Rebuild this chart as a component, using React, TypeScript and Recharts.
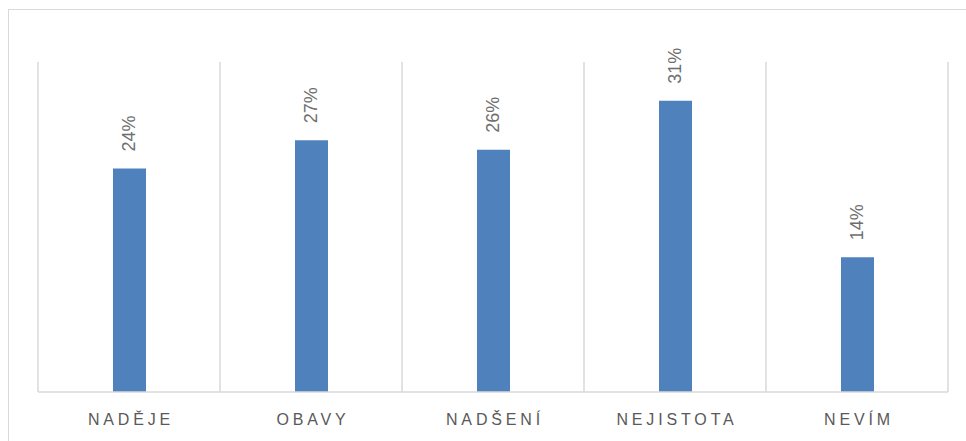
import React from 'react';
import { BarChart, Bar, XAxis, YAxis, CartesianGrid, LabelList } from 'recharts';

// Values (percent)
const categories = ['NADĚJE', 'OBAVY', 'NADŠENÍ', 'NEJISTOTA', 'NEVÍM'];
const shares = [23.7, 26.7, 25.7, 30.9, 14.3];

const data = categories.map((name, i) => ({ name, value: shares[i] }));

const GRID = '#d9d9d9';
const TEXT = '#595959';
const LABEL = '#6e6e6e';
const BAR = '#4f81bd';
const FONT = '"Liberation Sans", Arial, sans-serif';

// rotated value label above each bar
const ValueLabel = (props: any) => {
  const { x, y, width, value } = props;
  const cx = x + width / 2;
  const ty = y - 17;
  return (
    <text
      x={cx}
      y={ty}
      transform={`rotate(-90, ${cx}, ${ty})`}
      textAnchor="start"
      dominantBaseline="central"
      fill={LABEL}
      fontSize={18}
      fontFamily={FONT}
    >
      {`${Math.round(value)}%`}
    </text>
  );
};

const CategoryTick = (props: any) => {
  const { x, payload } = props;
  return (
    <text
      x={x + 2}
      y={425}
      textAnchor="middle"
      fill={TEXT}
      fontSize={16}
      fontFamily={FONT}
      letterSpacing={3.85}
    >
      {payload.value}
    </text>
  );
};

export default function App() {
  return (
    <div style={{ position: 'fixed', left: 0, top: 0, width: 966, height: 441, background: '#fff', overflow: 'hidden' }}>
      {/* outer chart frame, right and bottom edges fall outside the picture */}
      <div
        style={{
          position: 'absolute',
          left: 8,
          top: 9,
          width: 1000,
          height: 500,
          border: `1px solid ${GRID}`,
          boxSizing: 'border-box',
        }}
      />
      <div style={{ position: 'absolute', left: 0, top: 0 }}>
        <BarChart
          width={966}
          height={441}
          data={data}
          margin={{ top: 62, right: 18, left: 38, bottom: 0 }}
        >
          <CartesianGrid
            horizontal={false}
            stroke={GRID}
            strokeWidth={1.5}
            verticalCoordinatesGenerator={({ offset }: any) =>
              categories.map((_, i) => offset.left + (offset.width * i) / categories.length).concat(offset.left + offset.width)
            }
          />
          <XAxis
            dataKey="name"
            height={49}
            tickLine={false}
            axisLine={{ stroke: GRID, strokeWidth: 1.5 }}
            tick={<CategoryTick />}
            interval={0}
          />
          <YAxis hide domain={[0, 35]} />
          <Bar dataKey="value" fill={BAR} barSize={33} isAnimationActive={false}>
            <LabelList dataKey="value" content={<ValueLabel />} />
          </Bar>
        </BarChart>
      </div>
    </div>
  );
}
